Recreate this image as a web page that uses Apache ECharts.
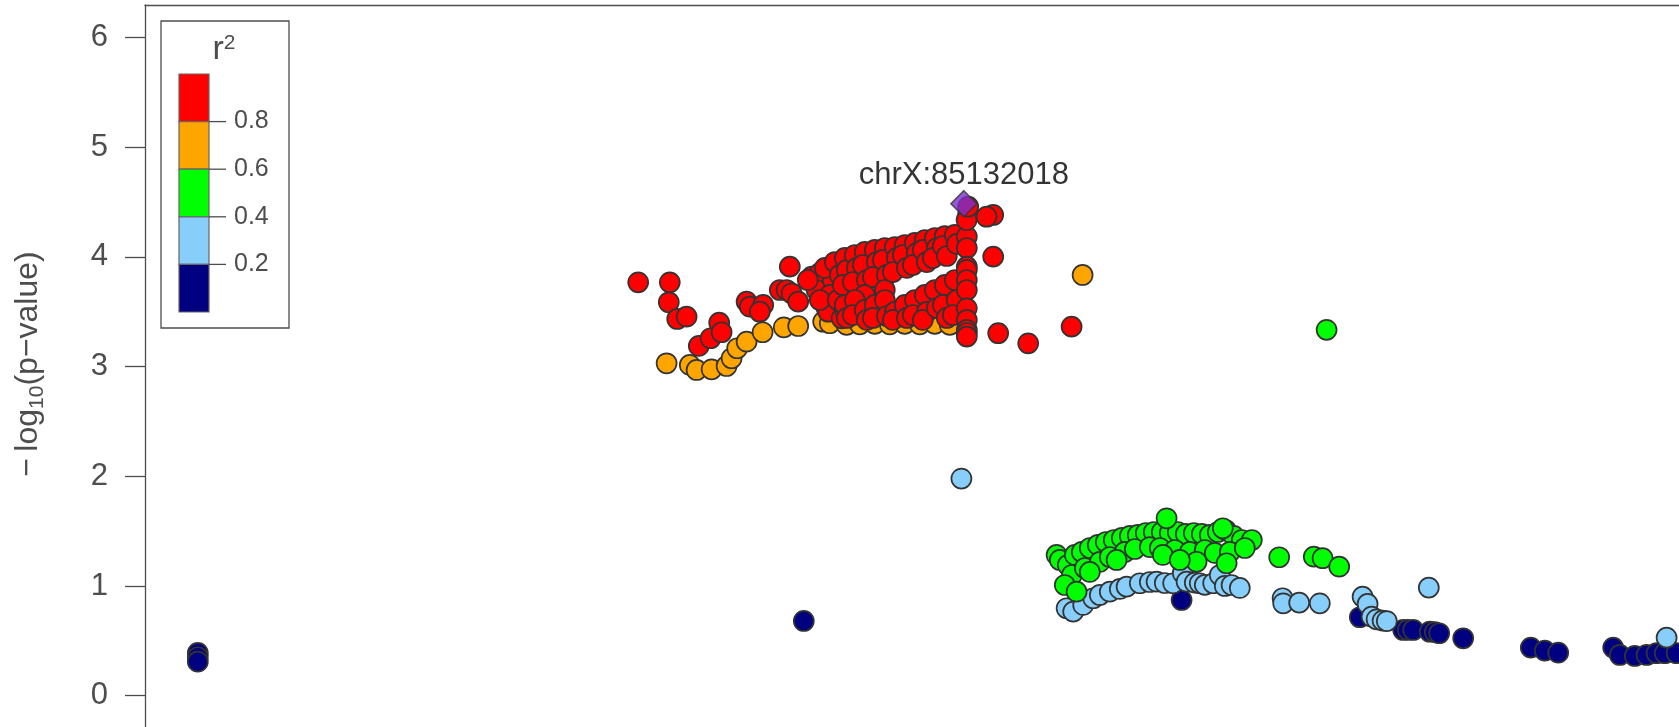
<!DOCTYPE html>
<html>
<head>
<meta charset="utf-8">
<script src="https://cdn.jsdelivr.net/npm/echarts@6/dist/echarts.min.js"></script>
<style>
html,body{margin:0;padding:0;background:#fff;}
#chart{width:1679px;height:727px;}
</style>
</head>
<body>
<div id="chart"></div>
<script>
// ---- data: [position (kb on chrX), -log10(p)] ----
const yTicks = [0, 1, 2, 3, 4, 5, 6];
const legendBreaks = ['0.8', '0.6', '0.4', '0.2'];
const ldColors = ['#FF0000', '#FFA500', '#00FF00', '#87CEFA', '#000080']; // top -> bottom
const leadSnp = { name: 'chrX:85132018', pos: 85132.018, logp: 4.485 };

const navyPts = [
  [84749, 0.39], [84749, 0.35], [84749, 0.31],
  [85052, 0.681],
  [85240.9, 0.872],
  [85330, 0.715],
  [85351.7, 0.599], [85354, 0.600], [85356.7, 0.599],
  [85365, 0.583], [85367.5, 0.580], [85369.7, 0.569],
  [85381.7, 0.523],
  [85415.5, 0.438], [85422.5, 0.410], [85429.2, 0.392],
  [85456.7, 0.438], [85460, 0.371], [85467.5, 0.362], [85473.4, 0.371],
  [85478.4, 0.387], [85482.5, 0.387], [85488.4, 0.387], [85495, 0.40]
];

const lightBluePts = [
  [85130.8, 1.979],
  [85183.4, 0.797], [85186.7, 0.766], [85191.7, 0.827], [85196.7, 0.888], [85200, 0.918],
  [85205, 0.948], [85210, 0.973], [85213.4, 0.994], [85220, 1.025], [85225, 1.036],
  [85228.4, 1.039], [85232.5, 1.027], [85236.7, 1.025], [85241.5, 1.118], [85243.4, 1.039],
  [85247.5, 1.03], [85250, 1.025], [85252.5, 1.01], [85256.7, 1.025], [85260, 1.100],
  [85262.5, 1.0], [85265.9, 1.009], [85270, 0.982],
  [85291.4, 0.888], [85291.7, 0.842], [85299.7, 0.848], [85310, 0.842],
  [85331.4, 0.902], [85333.9, 0.836], [85335.9, 0.720], [85338.4, 0.696], [85341.4, 0.684], [85343.5, 0.680],
  [85364.5, 0.985],
  [85483.4, 0.529]
];

const greenPts = [
  [85178.4, 1.283], [85180, 1.237], [85184, 1.191], [85187.5, 1.283], [85191, 1.31], [85195, 1.346],
  [85199, 1.374], [85203, 1.401], [85207, 1.419], [85211, 1.438], [85215, 1.456], [85219, 1.465],
  [85223, 1.483], [85227, 1.492], [85231, 1.492], [85235, 1.483], [85239, 1.492], [85243, 1.474],
  [85247, 1.483], [85251, 1.474], [85255, 1.465], [85259, 1.492], [85263, 1.51], [85267, 1.456],
  [85271, 1.419], [85276, 1.419],
  [85186, 1.1], [85192.5, 1.164], [85200, 1.219], [85205, 1.264], [85212.5, 1.31], [85217.5, 1.337],
  [85225, 1.355], [85230, 1.346], [85237.5, 1.328], [85245, 1.31], [85252.5, 1.328], [85257.5, 1.301],
  [85265, 1.31], [85272.5, 1.346],
  [85182.5, 1.009], [85188.4, 0.948], [85195, 1.128], [85208.4, 1.237], [85231.5, 1.283],
  [85248.4, 1.221], [85263.4, 1.207], [85240, 1.237],
  [85233.4, 1.617], [85261.5, 1.526],
  [85289.7, 1.262], [85307, 1.267], [85311.4, 1.253], [85319.7, 1.176],
  [85313.4, 3.335]
];

const orangePts = [
  [84983.4, 3.030], [84995, 3.015], [84998.4, 2.969], [85005.9, 2.975], [85013.4, 3.005],
  [85015.9, 3.076], [85018.7, 3.167], [85023.4, 3.227], [85031.4, 3.313], [85042, 3.358],
  [85049.2, 3.370], [85061.7, 3.409], [85065, 3.395], [85073.4, 3.38],
  [85080, 3.385], [85087.5, 3.39], [85095, 3.385], [85102.5, 3.39], [85110, 3.385],
  [85117.5, 3.39], [85125, 3.38],
  [85191.4, 3.835]
];

const redPts = [
  [84969.2, 3.768], [84985, 3.768], [84984.5, 3.586], [84988.7, 3.434], [84993.4, 3.455],
  [84999.5, 3.188], [85005.4, 3.258], [85009.7, 3.400], [85010.9, 3.313],
  [85023.4, 3.592], [85025, 3.546], [85031.7, 3.562], [85030, 3.500],
  [85040, 3.698], [85043.4, 3.698], [85045.9, 3.668], [85049.2, 3.592], [85045, 3.911],
  [85055.9, 3.820], [85060, 3.851], [85063.4, 3.531], [85064.2, 3.500], [85070.9, 3.440],
  [85058.4, 3.698], [85066.5, 3.789],
  [85054, 3.789], [85062.5, 3.899], [85067.5, 3.953], [85070, 3.835], [85065, 3.653],
  [85060, 3.607], [85069, 3.607], [85072.5, 3.516],
  // upper band
  [85072.5, 3.990], [85073.5, 3.881], [85071.5, 3.744],
  [85077.5, 4.017], [85078.5, 3.899], [85076.5, 3.771],
  [85082.5, 4.045], [85081.5, 3.926], [85083.5, 3.789], [85082.5, 3.653],
  [85087.5, 4.063], [85088.5, 3.953], [85086.5, 3.817],
  [85092.5, 4.081], [85091.5, 3.972], [85093.5, 3.835], [85092.5, 3.698],
  [85097.5, 4.090], [85098.5, 3.990], [85096.5, 3.862],
  [85102.5, 4.108], [85101.5, 4.017], [85103.5, 3.899],
  [85107.5, 4.127], [85108.5, 4.036], [85106.5, 3.926],
  [85112.5, 4.154], [85111.5, 4.063], [85113.5, 3.953],
  [85117.5, 4.172], [85118.5, 4.081], [85116.5, 3.990],
  [85122.5, 4.190], [85121.5, 4.099], [85123.5, 4.008],
  [85127.5, 4.200], [85128.5, 4.118],
  // lower band
  [85072.5, 3.562], [85073.5, 3.443],
  [85077.5, 3.607], [85076.5, 3.470],
  [85082.5, 3.516], [85083.5, 3.425],
  [85087.5, 3.562], [85086.5, 3.443],
  [85092.5, 3.607], [85093.5, 3.461],
  [85097.5, 3.498], [85096.5, 3.425],
  [85102.5, 3.562], [85103.5, 3.443],
  [85107.5, 3.607], [85106.5, 3.470],
  [85112.5, 3.653], [85113.5, 3.498], [85111.5, 3.425],
  [85117.5, 3.698], [85118.5, 3.534],
  [85122.5, 3.744], [85121.5, 3.562], [85123.5, 3.443],
  [85127.5, 3.789], [85128.5, 3.607], [85126.5, 3.470],
  // column at the lead SNP
  [85133.5, 4.184], [85133.5, 4.081], [85133.5, 3.911], [85133.5, 3.881], [85133.5, 3.789],
  [85133.5, 3.698], [85133.5, 3.531], [85133.5, 3.425], [85133.5, 3.334], [85133.5, 3.306],
  [85133.5, 3.273],
  [85134.2, 4.397], [85133.4, 4.336], [85134.2, 4.458], [85146.7, 4.382], [85143.4, 4.366],
  [85146.7, 4.002], [85149.2, 3.304], [85164.2, 3.212], [85185.9, 3.364]
];

// ---- chart ----
const FONT = '"Liberation Sans", Arial, Helvetica, sans-serif';
const AXIS_COL = '#4d4d4d';
const chart = echarts.init(document.getElementById('chart'), null, { renderer: 'canvas' });

function scatter(data, color, z) {
  return {
    type: 'scatter', data: data, symbol: 'circle', symbolSize: 20, z: z,
    itemStyle: { color: color, borderColor: '#333333', borderWidth: 1.7, opacity: 1 },
    emphasis: { disabled: true }, animation: false
  };
}

// legend graphic
const barX = 179, barY = 74, barW = 30, segH = 47.6;
const legendEls = [
  { type: 'rect', shape: { x: 161, y: 21, width: 128, height: 307 },
    style: { fill: '#fff', stroke: AXIS_COL, lineWidth: 1.3 }, z: 100 },
  { type: 'text', x: 224, y: 50, z: 101,
    style: { text: '{r|r}{s|2}', align: 'center', verticalAlign: 'middle', fill: AXIS_COL,
      rich: { r: { fontSize: 34, fontFamily: FONT, fill: AXIS_COL, verticalAlign: 'bottom' },
              s: { fontSize: 21, fontFamily: FONT, fill: AXIS_COL, verticalAlign: 'top' } } } }
];
ldColors.forEach(function (c, i) {
  legendEls.push({ type: 'rect', z: 101,
    shape: { x: barX, y: barY + i * segH, width: barW, height: segH },
    style: { fill: c, stroke: '#666', lineWidth: 1.2 } });
});
legendBreaks.forEach(function (t, i) {
  const yy = barY + (i + 1) * segH;
  legendEls.push({ type: 'line', z: 102, shape: { x1: barX + barW, y1: yy, x2: barX + barW + 17, y2: yy },
    style: { stroke: AXIS_COL, lineWidth: 1.3 } });
  legendEls.push({ type: 'text', z: 102, x: 234, y: yy,
    style: { text: t, fontSize: 25, fontFamily: FONT, fill: AXIS_COL, align: 'left', verticalAlign: 'middle' } });
});
// y-axis title
legendEls.push({ type: 'text', x: 30, y: 364, rotation: Math.PI / 2, z: 50,
  style: { text: '{a|\u2212\u2009log}{b|10}{a|(p\u2212value)}', align: 'center', verticalAlign: 'middle',
    rich: { a: { fontSize: 32, fontFamily: FONT, fill: AXIS_COL, lineHeight: 32, verticalAlign: 'top' },
            b: { fontSize: 21, fontFamily: FONT, fill: AXIS_COL, verticalAlign: 'bottom', padding: [14, 0, 0, 0] } } } });

chart.setOption({
  animation: false,
  backgroundColor: '#ffffff',
  grid: { left: 145, top: 5, width: 1560, height: 760, show: false, containLabel: false, outerBoundsMode: 'none' },
  xAxis: {
    type: 'value', min: 84722.6, max: 85502.6, position: 'top',
    axisLine: { show: true, onZero: false, lineStyle: { color: AXIS_COL, width: 1.3 } },
    axisTick: { show: false }, axisLabel: { show: false }, splitLine: { show: false }
  },
  yAxis: {
    type: 'value', min: -0.632, max: 6.296,
    axisLine: { show: true, onZero: false, lineStyle: { color: AXIS_COL, width: 1.3 } },
    axisTick: { show: true, customValues: yTicks, length: 20, inside: false, lineStyle: { color: AXIS_COL, width: 1.3 } },
    axisLabel: { show: true, customValues: yTicks, margin: 37, fontSize: 31, fontFamily: FONT, color: AXIS_COL },
    splitLine: { show: false }
  },
  graphic: legendEls,
  series: [
    scatter(navyPts, ldColors[4], 2),
    scatter(lightBluePts, ldColors[3], 3),
    scatter(greenPts, ldColors[2], 4),
    scatter(orangePts, ldColors[1], 5),
    scatter(redPts, ldColors[0], 6),
    {
      type: 'scatter', z: 7, symbol: 'diamond', symbolSize: 26,
      data: [{ name: leadSnp.name, value: [leadSnp.pos, leadSnp.logp] }],
      itemStyle: { color: '#7B2FCC', borderColor: '#333333', borderWidth: 1.5 },
      label: { show: true, position: 'top', distance: -1, formatter: '{b}', fontSize: 31, fontFamily: FONT, color: '#000' },
      emphasis: { disabled: true }, animation: false
    }
  ]
});
</script>
</body>
</html>
